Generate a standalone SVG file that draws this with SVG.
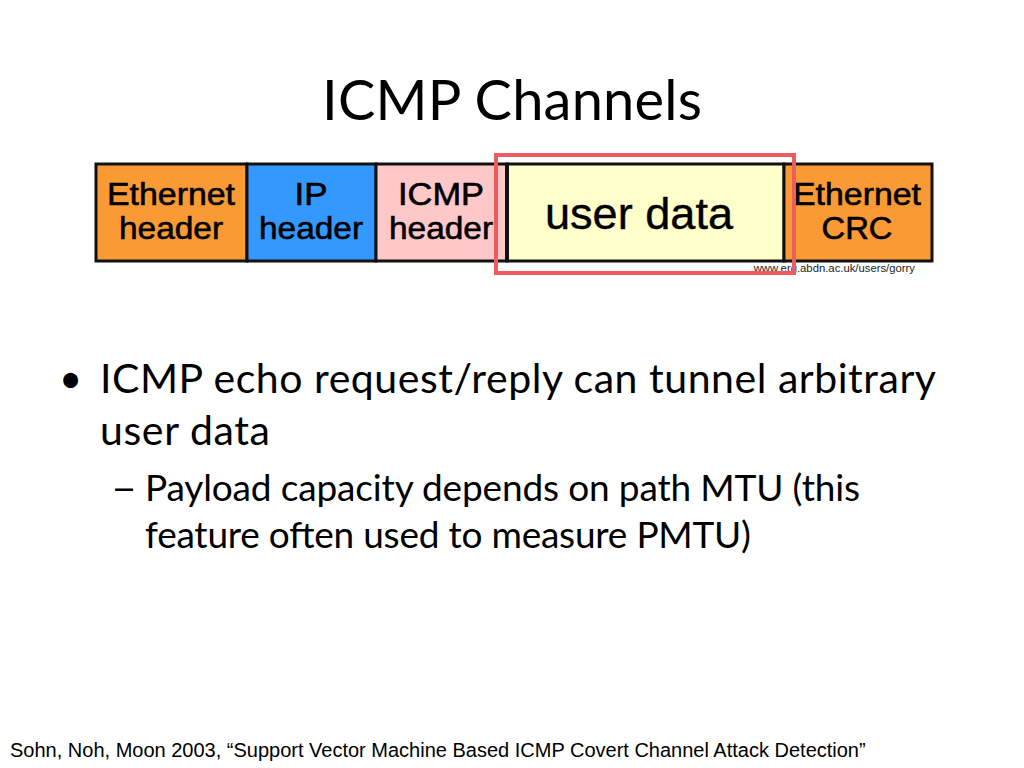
<svg xmlns="http://www.w3.org/2000/svg" width="1024" height="768" viewBox="0 0 1024 768">
<style>
.cell{stroke:#111;stroke-width:3}
.pk{font-family:"Liberation Sans",Arial,sans-serif;font-size:32px;fill:#000;text-anchor:middle;stroke:#000;stroke-width:0.6}
.body{font-family:Lato,"Open Sans",sans-serif;fill:#000}
</style>
<rect width="1024" height="768" fill="#fff"/>
<text x="322" y="120" class="body" font-size="56" textLength="380" lengthAdjust="spacing">ICMP Channels</text>
<g id="packet">
<g id="eth-header"><rect class="cell" x="96" y="164" width="151" height="97" fill="#fa9a35"/>
<text class="pk"><tspan x="171" y="205" textLength="128" lengthAdjust="spacingAndGlyphs">Ethernet</tspan><tspan x="171" y="239" textLength="104" lengthAdjust="spacingAndGlyphs">header</tspan></text></g>
<g id="ip-header"><rect class="cell" x="247" y="164" width="129" height="97" fill="#3399ff"/>
<text class="pk"><tspan x="311" y="205" textLength="33" lengthAdjust="spacingAndGlyphs">IP</tspan><tspan x="311" y="239" textLength="104" lengthAdjust="spacingAndGlyphs">header</tspan></text></g>
<g id="icmp-header"><rect class="cell" x="376" y="164" width="131" height="97" fill="#ffc8c8"/>
<text class="pk"><tspan x="441" y="205" textLength="86" lengthAdjust="spacingAndGlyphs">ICMP</tspan><tspan x="441" y="239" textLength="104" lengthAdjust="spacingAndGlyphs">header</tspan></text></g>
<g id="user-data"><rect class="cell" x="507" y="164" width="277" height="97" fill="#ffffcc"/>
<line x1="507" y1="164" x2="507" y2="261" stroke="#111" stroke-width="4"/>
<text x="545" y="229" font-family="Liberation Sans,Arial,sans-serif" font-size="45" fill="#000" stroke="#000" stroke-width="0.4" textLength="188" lengthAdjust="spacingAndGlyphs">user data</text></g>
<g id="eth-crc"><rect class="cell" x="784" y="164" width="148" height="97" fill="#fa9a35"/>
<text class="pk"><tspan x="857" y="205" textLength="128" lengthAdjust="spacingAndGlyphs">Ethernet</tspan><tspan x="857" y="239" textLength="71" lengthAdjust="spacingAndGlyphs">CRC</tspan></text></g>
</g>
<text x="915" y="272" text-anchor="end" font-family="Liberation Sans,Arial,sans-serif" font-size="11.3" fill="#222">www.erg.abdn.ac.uk/users/gorry</text>
<g id="highlight"><rect x="496" y="155" width="298" height="118" fill="none" stroke="#ee5c60" stroke-width="4"/></g>
<g id="bullets" class="body">
<text x="59" y="393" font-size="40">•</text>
<text x="100" y="393" font-size="41" textLength="836" lengthAdjust="spacing">ICMP echo request/reply can tunnel arbitrary</text>
<text x="100" y="445" font-size="41" textLength="170" lengthAdjust="spacing">user data</text>
<text x="111" y="501" font-size="37" textLength="26" lengthAdjust="spacingAndGlyphs">–</text>
<text x="145" y="501" font-size="37" textLength="715" lengthAdjust="spacing">Payload capacity depends on path MTU (this</text>
<text x="145" y="548" font-size="37" textLength="606" lengthAdjust="spacing">feature often used to measure PMTU)</text>
</g>
<text x="10" y="757" font-family="Liberation Sans,Arial,sans-serif" font-size="20" fill="#000">Sohn, Noh, Moon 2003, “Support Vector Machine Based ICMP Covert Channel Attack Detection”</text>
</svg>
